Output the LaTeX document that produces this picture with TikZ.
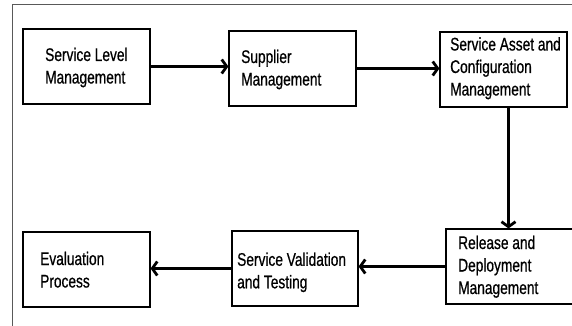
\documentclass[tikz,border=0pt]{standalone}
\usepackage{fontspec}
\setmainfont[FakeStretch=0.75,FakeBold=0.6]{Liberation Sans}
\usetikzlibrary{arrows.meta}
\tikzset{
  stagebox/.style={draw=black, line width=1.1pt, minimum width=#1, minimum height=75pt, inner sep=0pt, fill=white},
  stagebox/.default=127pt,
  stagetext/.style={anchor=base west, align=left, inner sep=0pt, font=\fontsize{18.3}{22.5}\selectfont},
  flow/.style={line width=2.8pt, -{Straight Barb[length=5pt,width=14pt]}},
  frameline/.style={draw=black!65, line width=1pt}
}
\begin{document}
\begin{tikzpicture}[x=1pt,y=-1pt]
\useasboundingbox (0,0) rectangle (572,326);
\clip (0,0) rectangle (572,326);
\fill[white] (0,0) rectangle (572,326);
% outer frame (top and left edges)
\coordinate (fa) at (12.5,326);
\coordinate (fb) at (12.5,5);
\coordinate (fc) at (574,5);
\draw[frameline] (fa) -- (fb) -- (fc);
% process stages
\node[stagebox] (b1) at (86.5,66.5) {};
\node[stagebox] (b2) at (292.5,68.5) {};
\node[stagebox] (b3) at (503.5,69.5) {};
\node[stagebox=128pt] (b4) at (510,266.5) {};
\node[stagebox=126pt] (b5) at (295,268.5) {};
\node[stagebox] (b6) at (86.5,269.5) {};
% labels: the base anchor sits on the last line's baseline
\node[stagetext] (t1) at (45,83.5) {Service Level\\Management};
\node[stagetext] (t2) at (241,85.5) {Supplier\\Management};
\node[stagetext] (t3) at (450,95.5) {Service Asset and\\Configuration\\Management};
\node[stagetext] (t4) at (458,294) {Release and\\Deployment\\Management};
\node[stagetext] (t5) at (237,288.3) {Service Validation\\and Testing};
\node[stagetext] (t6) at (40,287.5) {Evaluation\\Process};
% flow between stages
\draw[flow] (b1.east) -- (b1.east -| b2.west);
\draw[flow] (b2.east) -- (b2.east -| b3.west);
\draw[flow] ([xshift=-1.5pt]b4.north |- b3.south) -- ([xshift=-1.5pt]b4.north);
\draw[flow] (b4.west) -- (b4.west -| b5.east);
\draw[flow] (b5.west) -- (b5.west -| b6.east);
\end{tikzpicture}
\end{document}
